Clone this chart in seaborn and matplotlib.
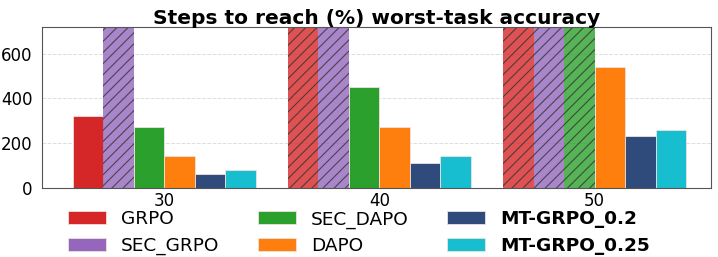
import pandas as pd
import matplotlib.pyplot as plt
import seaborn as sns
from matplotlib.patches import Patch

# Steps needed to reach each worst-task accuracy level (720 = never reached)
thresholds = ["30", "40", "50"]
methods = ["GRPO", "SEC_GRPO", "SEC_DAPO", "DAPO", "MT-GRPO_0.2", "MT-GRPO_0.25"]
grpo = [320, 720, 720]
sec_grpo = [720, 720, 720]
sec_dapo = [270, 450, 720]
dapo = [140, 270, 540]
mt_grpo_02 = [60, 110, 230]
mt_grpo_025 = [80, 140, 260]
cap = 720

colors = ["#d62728", "#9467bd", "#2ca02c", "#ff7f0e", "#2f4b7c", "#17becf"]

rows = []
for m, vals in zip(methods, [grpo, sec_grpo, sec_dapo, dapo, mt_grpo_02, mt_grpo_025]):
    for t, v in zip(thresholds, vals):
        rows.append({"Threshold": t, "Method": m, "Steps": v})
df = pd.DataFrame(rows)

sns.set_style("white")
plt.rcParams['hatch.linewidth'] = 0.8
plt.rcParams['text.color'] = 'black'
plt.rcParams['xtick.color'] = 'black'
plt.rcParams['ytick.color'] = 'black'

fig, ax = plt.subplots(figsize=(7.18, 2.57), dpi=100)
sns.barplot(data=df, x="Threshold", y="Steps", hue="Method", hue_order=methods,
            palette=colors, width=0.85, ax=ax, legend=False, saturation=1,
            edgecolor="#f0e0e0", linewidth=0.6)

# mark bars that never reached the threshold
for cont in ax.containers:
    for bar in cont:
        if bar.get_height() >= cap:
            bar.set_hatch("///")
            bar.set_edgecolor("#333333")
            bar.set_linewidth(0)
            bar.set_alpha(0.8)

ax.set_ylim(0, 720)
ax.set_xlim(-0.57, 2.54)
ax.set_yticks([0, 200, 400, 600])
ax.yaxis.grid(True, linestyle="--", color="#dddddd", linewidth=0.7)
ax.set_axisbelow(True)
ax.set_xlabel("")
ax.set_ylabel("")
ax.tick_params(axis="both", labelsize=12, length=3)
ax.tick_params(axis="x", pad=0)
for s in ax.spines.values():
    s.set_color("#555555")
ax.set_title("Steps to reach (%) worst-task accuracy", fontsize=14.5, fontweight="bold", pad=2)

handles = [Patch(facecolor=c, edgecolor="#f0e0e0", linewidth=0.6) for c in colors]
leg = fig.legend(handles, methods, ncol=3, loc="upper center", bbox_to_anchor=(0.5, 0.232),
                 frameon=False, fontsize=13.3, handlelength=2.05, handleheight=0.7,
                 columnspacing=2.1, labelspacing=0.45, borderpad=0.2)
for txt in leg.get_texts():
    if txt.get_text().startswith("MT-"):
        txt.set_fontweight("bold")

plt.subplots_adjust(left=0.058, right=0.99, top=0.895, bottom=0.27)
plt.savefig("out.png", dpi=100)
